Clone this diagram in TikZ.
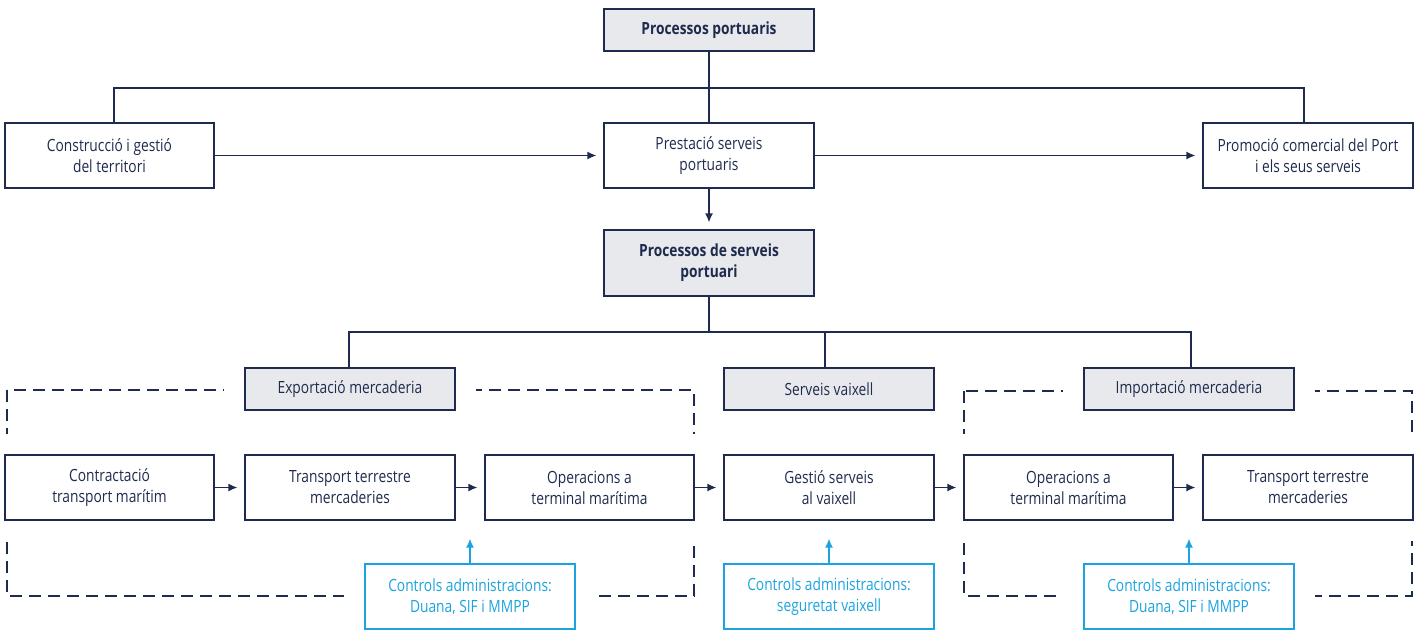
\documentclass[tikz,border=0pt]{standalone}
\usepackage{fontspec}
\setmainfont{Open Sans}[FakeStretch=0.82]
\usetikzlibrary{arrows.meta,calc}
\definecolor{navy}{HTML}{1F2B4E}
\definecolor{hdrfill}{HTML}{E8E9EC}
\definecolor{ctrl}{HTML}{1BA3DF}
\pgfdeclarelayer{dashlayer}
\pgfdeclarelayer{masklayer}
\pgfsetlayers{dashlayer,masklayer,main}
\tikzset{
  box/.style={draw=navy, line width=1.3pt, fill=white, text=navy, minimum width=210pt, minimum height=65pt, inner sep=0pt, align=center, font=\fontsize{16.8}{21}\selectfont},
  hdr/.style={box, fill=hdrfill, minimum height=42pt},
  mainhdr/.style={box, fill=hdrfill, font=\fontsize{16.8}{21}\selectfont\bfseries},
  ctrlbox/.style={box, draw=ctrl, text=ctrl},
  conn/.style={draw=navy, line width=1.3pt},
  arr/.style={conn, -{Latex[length=9pt,width=8pt]}, shorten >=7pt},
  carr/.style={draw=ctrl, line width=1.3pt, -{Latex[length=9pt,width=8pt]}, shorten >=18pt},
  dashrect/.style={draw=navy, line width=1.3pt, dash pattern=on 12pt off 7pt},
}
\begin{document}
\begin{tikzpicture}[x=1pt,y=-1pt]
\useasboundingbox (0,0) rectangle (1419,630);
% top level
\node[mainhdr, minimum height=42pt] (pp) at (709,30) {Processos portuaris};
\node[box, minimum width=209pt] (cg) at (109.5,155.5) {Construcció i gestió\\del territori};
\node[box] (ps) at (709,155.5) {Prestació serveis\\portuaris};
\node[box] (pc) at (1308,155.5) {Promoció comercial del Port\\i els seus serveis};
\node[mainhdr, minimum height=66pt] (psp) at (709,263) {Processos de serveis\\portuari};
% group headers
\node[hdr] (ex) at (350,389) {Exportació mercaderia};
\node[hdr] (sv) at (829,389) {Serveis vaixell};
\node[hdr] (im) at (1189,389) {Importació mercaderia};
% process row
\node[box, minimum width=209pt] (r1) at (109.5,487.5) {Contractació\\transport marítim};
\node[box] (r2) at (350,487.5) {Transport terrestre\\mercaderies};
\node[box, minimum width=209pt] (r3) at (589.5,487.5) {Operacions a\\terminal marítima};
\node[box] (r4) at (829,487.5) {Gestió serveis\\al vaixell};
\node[box, minimum width=209pt] (r5) at (1068.5,487.5) {Operacions a\\terminal marítima};
\node[box] (r6) at (1308,487.5) {Transport terrestre\\mercaderies};
% controls
\node[ctrlbox] (c1) at (470,596.5) {Controls administracions:\\Duana, SIF i MMPP};
\node[ctrlbox] (c2) at (829,596.5) {Controls administracions:\\seguretat vaixell};
\node[ctrlbox] (c3) at (1189,596.5) {Controls administracions:\\Duana, SIF i MMPP};
% junctions
\coordinate (j1) at (709,88);
\coordinate (j2) at (709,332);
% connectors
\draw[conn] (pp.south) -- (ps.north);
\draw[conn] ($(cg.north)+(4.5,0)$) |- (j1);
\draw[conn] ($(pc.north)+(-4,0)$) |- (j1);
\draw[arr] (cg.east) -- (ps.west);
\draw[arr] (ps.east) -- (pc.west);
\draw[arr] (ps.south) -- (psp.north);
\draw[conn] (psp.south) -- (j2);
\draw[conn] ($(ex.north)+(-1,0)$) |- (j2);
\draw[conn] ($(im.north)+(2,0)$) |- (j2);
\draw[conn] ($(sv.north)+(-4,0)$) -- ($(sv.north |- j2)+(-4,0)$);
\draw[arr] (r1.east) -- (r2.west);
\draw[arr] (r2.east) -- (r3.west);
\draw[arr] (r3.east) -- (r4.west);
\draw[arr] (r4.east) -- (r5.west);
\draw[arr] (r5.east) -- (r6.west);
\draw[carr] (c1.north) -- (c1.north |- r2.south);
\draw[carr] (c2.north) -- (r4.south);
\draw[carr] (c3.north) -- (c3.north |- r5.south);
% dashed group frames
\begin{pgfonlayer}{dashlayer}
\draw[dashrect] (7,390) rectangle (694,596);
\draw[dashrect] (964,391) rectangle (1412,596);
\end{pgfonlayer}
\begin{pgfonlayer}{masklayer}
\foreach \n in {ex,r1,r2,r3,c1,im,r5,r6,c3}{
  \fill[white] ($(\n.south west)+(-20,20)$) rectangle ($(\n.north east)+(20,-20)$);
}
\end{pgfonlayer}
\end{tikzpicture}
\end{document}
